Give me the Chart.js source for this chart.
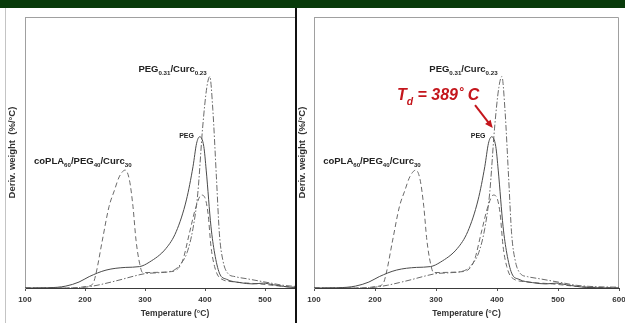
<!DOCTYPE html>
<html lang="en">
<head>
<meta charset="UTF-8">
<title>DTG curves</title>
<script src="https://cdn.jsdelivr.net/npm/chart.js"></script>
<style>
    body {
        margin: 0;
        width: 625px;
        height: 323px;
        overflow: hidden;
        background: #fff;
        position: relative;
        font-family: 'Liberation Sans', Arial, sans-serif;
    }
    .header { position: absolute; left: 0; top: 0; width: 625px; height: 8px; background: #083a0a; }
    .divider { position: absolute; left: 295px; top: 8px; width: 2px; height: 315px; background: #111; }
    .edge { position: absolute; left: 5px; top: 8px; width: 1px; height: 315px; background: #c4c4c4; }
    .panel { position: absolute; top: 0; height: 323px; overflow: hidden; }
    #leftPanel { left: 0; width: 295px; }
    #rightPanel { left: 297px; width: 328px; }
</style>
</head>
<body>
<div class="header"></div>
<div class="panel" id="leftPanel"><canvas id="leftChart" width="330" height="323"></canvas></div>
<div class="panel" id="rightPanel"><canvas id="rightChart" width="328" height="323"></canvas></div>
<div class="edge"></div>
<div class="divider"></div>

<script>
    // temperature axis ticks
    const tempTicks = [100, 200, 300, 400, 500, 600];

    // PEG (solid line)
    const pegT = [100, 140, 168, 190, 207, 235, 268, 291, 307, 335, 352, 369, 380, 386, 391, 398, 402, 410, 416, 424, 436, 458, 480, 497, 514, 547, 600];
    const pegV = [0, 0.1, 0.7, 2.2, 4.2, 6.6, 7.6, 7.9, 9.5, 14.6, 20.8, 32.5, 44.8, 53.4, 55.8, 52.2, 43.5, 22.6, 12.9, 5.5, 3.2, 2, 1.5, 1.8, 1.2, 0.2, 0];

    // coPLA60/PEG40/Curc30 (dashed)
    const coplaT = [100, 180, 200, 213, 218, 229, 240, 249, 257, 267, 274, 280, 285, 291, 296, 324, 341, 352, 363, 374, 385, 394, 399, 405, 410, 416, 424, 447, 491, 536, 600];
    const coplaV = [0, 0, 0.5, 1.5, 5, 17.7, 30, 36, 41, 43.5, 39.9, 30, 17.7, 9.1, 5.7, 5.8, 6, 6.6, 10.3, 20.2, 30, 34.3, 33.7, 27.6, 15.3, 7.9, 3.9, 2.3, 1.5, 0.5, 0];

    // PEG0.31/Curc0.23 (dash-dot)
    const curcT = [100, 170, 200, 220, 240, 260, 280, 300, 320, 340, 350, 360, 370, 380, 388, 396, 403, 408, 413, 419, 424, 430, 438, 450, 470, 490, 510, 530, 560, 600];
    const curcV = [0, 0, 0.3, 1, 2, 3.1, 4.3, 5.3, 5.6, 6, 6.8, 9, 13, 22, 35, 59, 74, 78, 66, 41, 20, 10, 5.4, 4.2, 3.4, 2.6, 1.8, 1, 0.5, 0.3];

    const pts = (xs, ys) => xs.map((x, i) => ({ x: x, y: ys[i] }));
    const FONT = "'Liberation Sans Narrow', 'Liberation Sans', Arial, sans-serif";

    // thin gray frame on top and right of the plot
    const framePlugin = {
        id: 'frame',
        beforeDatasetsDraw(chart) {
            const { ctx, chartArea: a } = chart;
            ctx.save();
            ctx.strokeStyle = '#a0a0a0';
            ctx.lineWidth = 1;
            ctx.beginPath();
            ctx.moveTo(a.left, a.top + 0.5);
            ctx.lineTo(a.right - 0.5, a.top + 0.5);
            ctx.lineTo(a.right - 0.5, a.bottom);
            ctx.stroke();
            ctx.restore();
        }
    };

    // text labels with subscripts, and an arrow
    const notesPlugin = {
        id: 'notes',
        afterDatasetsDraw(chart, args, opts) {
            const { ctx } = chart;
            const sx = chart.scales.x, sy = chart.scales.y;
            ctx.save();
            ctx.textBaseline = 'alphabetic';
            ctx.textAlign = 'left';
            (opts.items || []).forEach(it => {
                let x = sx.getPixelForValue(it.t);
                const y = sy.getPixelForValue(it.v);
                ctx.fillStyle = it.color || '#222';
                it.parts.forEach(p => {
                    const sub = p[1];
                    ctx.font = (it.style || '') + ' bold ' + (sub ? it.size * 0.65 : it.size) + 'px ' + (it.family || FONT);
                    ctx.fillText(p[0], x, y + (sub ? it.size * 0.3 : 0));
                    x += ctx.measureText(p[0]).width;
                });
            });
            if (opts.arrow) {
                const a = opts.arrow;
                const x1 = sx.getPixelForValue(a.t1), y1 = sy.getPixelForValue(a.v1);
                const x2 = sx.getPixelForValue(a.t2), y2 = sy.getPixelForValue(a.v2);
                const ang = Math.atan2(y2 - y1, x2 - x1);
                ctx.strokeStyle = a.color;
                ctx.fillStyle = a.color;
                ctx.lineWidth = 2;
                ctx.beginPath();
                ctx.moveTo(x1, y1);
                ctx.lineTo(x2 - 5 * Math.cos(ang), y2 - 5 * Math.sin(ang));
                ctx.stroke();
                ctx.beginPath();
                ctx.moveTo(x2, y2);
                ctx.lineTo(x2 - 8 * Math.cos(ang) + 3.5 * Math.sin(ang), y2 - 8 * Math.sin(ang) - 3.5 * Math.cos(ang));
                ctx.lineTo(x2 - 8 * Math.cos(ang) - 3.5 * Math.sin(ang), y2 - 8 * Math.sin(ang) + 3.5 * Math.cos(ang));
                ctx.closePath();
                ctx.fill();
            }
            ctx.restore();
        }
    };

    const baseNotes = [
        { t: 289, v: 79.7, size: 9.5, parts: [['PEG', false], ['0.31', true], ['/Curc', false], ['0.23', true]] },
        { t: 357, v: 55.4, size: 7, parts: [['PEG', false]] },
        { t: 115, v: 45.8, size: 9.5, parts: [['coPLA', false], ['60', true], ['/PEG', false], ['40', true], ['/Curc', false], ['30', true]] }
    ];

    function makeChart(id, yWidth, yTitlePad, padRight, notes, arrow) {
        return new Chart(document.getElementById(id), {
            type: 'line',
            data: {
                datasets: [
                    { label: 'PEG', data: pts(pegT, pegV), borderColor: '#4a4a4a', borderWidth: 1 },
                    { label: 'coPLA60/PEG40/Curc30', data: pts(coplaT, coplaV), borderColor: '#6a6a6a', borderWidth: 1, borderDash: [5, 3] },
                    { label: 'PEG0.31/Curc0.23', data: pts(curcT, curcV), borderColor: '#6a6a6a', borderWidth: 1, borderDash: [6, 2, 1.5, 2] }
                ]
            },
            options: {
                responsive: false,
                animation: false,
                devicePixelRatio: 1,
                layout: { padding: { top: 17, right: padRight, left: 0, bottom: 0 } },
                elements: {
                    point: { radius: 0 },
                    line: { cubicInterpolationMode: 'monotone', fill: false }
                },
                scales: {
                    x: {
                        type: 'linear',
                        min: tempTicks[0],
                        max: tempTicks[tempTicks.length - 1],
                        afterBuildTicks: s => { s.ticks = tempTicks.map(v => ({ value: v })); },
                        afterFit: s => { s.height = 35; s.paddingLeft = 0; s.paddingRight = 0; },
                        grid: { drawOnChartArea: false, tickLength: 3, color: '#555' },
                        border: { color: '#3a3a3a', width: 1 },
                        ticks: { color: '#333', padding: 4, maxRotation: 0, autoSkip: false, font: { family: FONT, size: 8, weight: 'bold' } },
                        title: { display: true, text: 'Temperature (°C)', color: '#333', padding: { top: 0, bottom: 4 }, font: { family: FONT, size: 8.5, weight: 'bold' } }
                    },
                    y: {
                        min: 0,
                        max: 100,
                        afterFit: s => { s.width = yWidth; },
                        grid: { display: false },
                        border: { color: '#a0a0a0', width: 1 },
                        ticks: { display: false },
                        title: { display: true, text: 'Deriv. weight  (%/°C)', color: '#333', padding: { top: yTitlePad, bottom: 0 }, font: { family: FONT, size: 9.5, weight: 'bold' } }
                    }
                },
                plugins: {
                    legend: { display: false },
                    tooltip: { enabled: false },
                    notes: { items: notes, arrow: arrow }
                }
            },
            plugins: [framePlugin, notesPlugin]
        });
    }

    makeChart('leftChart', 25, 6.5, 5, baseNotes, null);

    makeChart('rightChart', 17, 0, 6,
        baseNotes.concat([
            { t: 236, v: 69.4, size: 16, style: 'italic', color: '#c4161c', family: "'Liberation Sans', Arial, sans-serif",
              parts: [['T', false], ['d', true], [' = 389', false], ['˚', false], [' C', false]] }
        ]),
        { t1: 364, v1: 67.5, t2: 393, v2: 59, color: '#c4161c' });
</script>
</body>
</html>
